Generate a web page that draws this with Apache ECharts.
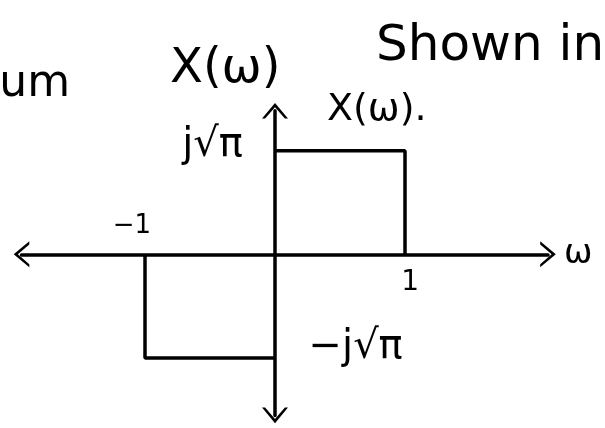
<!DOCTYPE html>
<html><head><meta charset="utf-8">
<script src="https://cdn.jsdelivr.net/npm/echarts@6/dist/echarts.min.js"></script>
<style>html,body{margin:0;padding:0;background:#fff}#c{width:605px;height:428px}</style>
</head><body><div id="c"></div>
<script>
// Spectrum X(ω): +j√π on 0<ω<1, −j√π on −1<ω<0  (√π ≈ 1.77)
const posOmega = [0, 1, 1];
const posValue = [1.77, 1.77, 0];
const negOmega = [-1, -1, 0];
const negValue = [0, -1.77, -1.77];
// tick / level annotations
const tickLabels = ['−1', '1'];
const tickOmega = [-1.1, 1.04];
const tickValue = [0.48, -0.48];
const levelLabels = ['j√π', '−j√π'];
const levelOmega = [-0.48, 0.62];
const levelValue = [1.85, -1.6];
const headerTexts = ['um', 'X(ω)', 'Shown in'];

const FONT = '"DejaVu Sans", sans-serif';
const chev = 'path://M10,0 L20,12 L17.6,12 L10,3.2 L2.4,12 L0,12 Z';

const chart = echarts.init(document.getElementById('c'), null, {renderer: 'canvas'});
const axisCommon = {
  type: 'value',
  axisLine: {onZero: true, lineStyle: {color: '#000', width: 3.5}, symbol: [chev, chev], symbolSize: [26, 18]},
  axisTick: {show: false}, axisLabel: {show: false}, splitLine: {show: false}
};
const labelStyle = {show: true, position: 'inside', formatter: p => p.name, color: '#000', fontFamily: FONT};
chart.setOption({
  backgroundColor: '#fff',
  animation: false,
  grid: {left: 21.5, width: 526.5, top: 110.8, height: 304.6},
  xAxis: Object.assign({}, axisCommon, {min: -1.95, max: 2.1, name: 'ω', nameGap: 16,
    nameTextStyle: {fontFamily: FONT, fontSize: 34, color: '#000', verticalAlign: 'middle', align: 'left'}}),
  yAxis: Object.assign({}, axisCommon, {min: -2.75, max: 2.45, name: 'X(ω).', nameGap: 1,
    nameTextStyle: {fontFamily: FONT, fontSize: 38, color: '#000', verticalAlign: 'middle', align: 'left', padding: [0, 0, 0, 52]}}),
  graphic: [
    {type: 'text', style: {x: 70, y: 85, text: headerTexts[0], font: '44px ' + FONT, fill: '#000', textAlign: 'right', textVerticalAlign: 'middle'}},
    {type: 'text', style: {x: 170, y: 70, text: headerTexts[1], font: '48px ' + FONT, fill: '#000', textAlign: 'left', textVerticalAlign: 'middle'}},
    {type: 'text', style: {x: 376, y: 47, text: headerTexts[2], font: '50px ' + FONT, fill: '#000', textAlign: 'left', textVerticalAlign: 'middle'}}
  ],
  series: [
    {type: 'line', data: posOmega.map((w, i) => [w, posValue[i]]), showSymbol: false,
     lineStyle: {color: '#000', width: 3.5}, silent: true},
    {type: 'line', data: negOmega.map((w, i) => [w, negValue[i]]), showSymbol: false,
     lineStyle: {color: '#000', width: 3.5}, silent: true},
    {type: 'scatter', symbolSize: 0, silent: true, itemStyle: {opacity: 1},
     data: tickLabels.map((t, i) => ({value: [tickOmega[i], tickValue[i]], name: t,
       label: {fontSize: i === 0 ? 26 : 28}})),
     label: labelStyle},
    {type: 'scatter', symbolSize: 0, silent: true, itemStyle: {opacity: 1},
     data: levelLabels.map((t, i) => ({value: [levelOmega[i], levelValue[i]], name: t})),
     label: Object.assign({}, labelStyle, {fontSize: 40})}
  ]
});
</script></body></html>
